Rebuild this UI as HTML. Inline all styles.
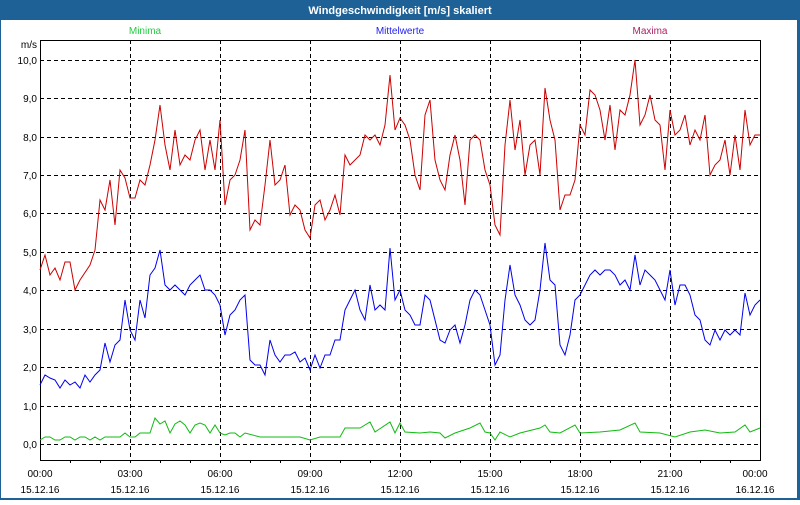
<!DOCTYPE html>
<html><head><style>
body{margin:0;width:800px;height:500px;overflow:hidden;background:#fff;font-family:"Liberation Sans",sans-serif}
</style></head><body>
<svg width="800" height="500" xmlns="http://www.w3.org/2000/svg" font-family="Liberation Sans, sans-serif" font-size="10">
<rect x="0" y="0" width="800" height="500" fill="#1d6196"/>
<rect x="1" y="20" width="796" height="478" fill="#fff"/>
<text x="400" y="14" fill="#fff" font-weight="bold" font-size="11" text-anchor="middle">Windgeschwindigkeit [m/s] skaliert</text>
<text x="145" y="34" fill="#22cc44" text-anchor="middle">Minima</text>
<text x="400" y="34" fill="#2222ee" text-anchor="middle">Mittelwerte</text>
<text x="650" y="34" fill="#aa2266" text-anchor="middle">Maxima</text>
<g stroke="#000" stroke-dasharray="4,3" stroke-width="1">
<line x1="40" x2="760" y1="60.5" y2="60.5"/><line x1="40" x2="760" y1="98.5" y2="98.5"/><line x1="40" x2="760" y1="137.5" y2="137.5"/><line x1="40" x2="760" y1="175.5" y2="175.5"/><line x1="40" x2="760" y1="213.5" y2="213.5"/><line x1="40" x2="760" y1="252.5" y2="252.5"/><line x1="40" x2="760" y1="290.5" y2="290.5"/><line x1="40" x2="760" y1="329.5" y2="329.5"/><line x1="40" x2="760" y1="367.5" y2="367.5"/><line x1="40" x2="760" y1="406.5" y2="406.5"/><line x1="40" x2="760" y1="444.5" y2="444.5"/>
<line x1="130.5" x2="130.5" y1="40" y2="460"/><line x1="220.5" x2="220.5" y1="40" y2="460"/><line x1="310.5" x2="310.5" y1="40" y2="460"/><line x1="400.5" x2="400.5" y1="40" y2="460"/><line x1="490.5" x2="490.5" y1="40" y2="460"/><line x1="580.5" x2="580.5" y1="40" y2="460"/><line x1="670.5" x2="670.5" y1="40" y2="460"/>
</g>
<path d="M40.5 40.5H760.5V460.5H40.5Z" fill="none" stroke="#000"/>
<g stroke="#000"><path d="M70.5 460v3M100.5 460v3M130.5 460v3M160.5 460v3M190.5 460v3M220.5 460v3M250.5 460v3M280.5 460v3M310.5 460v3M340.5 460v3M370.5 460v3M400.5 460v3M430.5 460v3M460.5 460v3M490.5 460v3M520.5 460v3M550.5 460v3M580.5 460v3M610.5 460v3M640.5 460v3M670.5 460v3M700.5 460v3M730.5 460v3"/></g>
<g text-anchor="end" fill="#000"><text x="37" y="48">m/s</text><text x="37" y="64">10,0</text><text x="37" y="102">9,0</text><text x="37" y="141">8,0</text><text x="37" y="179">7,0</text><text x="37" y="217">6,0</text><text x="37" y="256">5,0</text><text x="37" y="294">4,0</text><text x="37" y="333">3,0</text><text x="37" y="371">2,0</text><text x="37" y="410">1,0</text><text x="37" y="448">0,0</text></g>
<g text-anchor="middle" fill="#000">
<text x="40" y="477">00:00</text><text x="40" y="493">15.12.16</text>
<text x="130" y="477">03:00</text><text x="130" y="493">15.12.16</text>
<text x="220" y="477">06:00</text><text x="220" y="493">15.12.16</text>
<text x="310" y="477">09:00</text><text x="310" y="493">15.12.16</text>
<text x="400" y="477">12:00</text><text x="400" y="493">15.12.16</text>
<text x="490" y="477">15:00</text><text x="490" y="493">15.12.16</text>
<text x="580" y="477">18:00</text><text x="580" y="493">15.12.16</text>
<text x="670" y="477">21:00</text><text x="670" y="493">15.12.16</text>
<text x="755" y="477">00:00</text><text x="755" y="493">16.12.16</text>
</g>
<polyline fill="none" stroke="#cc0000" points="40,270 45,255 50,275 55,268 60,280 65,262 70,262 75,290 80,280 90,265 95,250 100,200 105,210 110,180 115,225 120,170 125,178 130,198 135,198 140,180 145,185 150,165 155,140 160,105 165,145 170,170 175,130 180,165 185,155 190,160 195,140 200,130 205,170 210,140 215,170 220,120 225,205 230,180 235,175 240,160 245,130 250,230 255,220 260,225 265,185 270,140 275,185 280,180 285,165 290,215 295,205 300,210 305,230 310,238 315,205 320,200 325,220 330,210 335,195 340,215 345,155 350,165 355,160 360,155 365,135 370,140 375,135 380,145 385,125 390,75 395,130 400,118 405,125 410,140 415,175 420,190 425,115 430,100 435,160 440,180 445,190 450,155 455,135 460,160 465,205 470,140 475,135 480,140 485,170 490,185 495,225 500,235 505,145 510,100 515,150 520,120 525,175 530,145 535,140 540,175 545,88 550,120 555,140 560,210 565,195 570,195 575,180 580,125 585,135 590,90 595,95 600,110 605,140 610,105 615,150 620,110 625,115 630,95 635,60 640,125 645,115 650,95 655,120 660,125 665,170 670,110 675,135 680,130 685,115 690,145 695,130 700,140 705,115 710,175 715,165 720,160 725,140 730,175 735,135 740,170 745,110 750,145 755,135 760,135"/>
<polyline fill="none" stroke="#0000ee" points="40,385 45,375 50,378 55,380 60,388 65,380 70,385 75,382 80,388 85,375 90,382 95,375 100,370 105,343 110,362 115,345 120,340 125,300 130,330 135,340 140,300 145,318 150,275 155,268 160,250 165,285 170,290 175,285 180,290 185,295 190,285 195,280 200,275 205,290 210,290 215,295 220,305 225,335 230,315 235,310 240,300 245,295 250,360 255,365 260,365 265,375 270,340 275,355 280,362 285,355 290,355 295,352 300,362 305,358 310,370 315,355 320,368 325,355 330,355 335,340 340,340 345,310 350,300 355,290 360,310 365,320 370,285 375,310 380,305 385,310 390,248 395,300 400,290 405,310 410,315 415,325 420,325 425,295 430,300 435,320 440,340 445,343 450,330 455,325 460,343 465,325 470,300 475,290 480,295 485,310 490,325 495,365 500,355 505,300 510,265 515,295 520,305 525,320 530,325 535,320 540,290 545,243 550,280 555,285 560,345 565,355 570,335 575,300 580,295 585,285 590,275 595,270 600,275 605,270 610,270 615,275 620,285 625,280 630,290 635,255 640,285 645,270 650,275 655,280 660,290 665,300 670,270 675,305 680,285 685,285 690,295 695,315 700,320 705,340 710,345 715,330 720,340 725,330 730,335 735,330 740,335 745,293 750,315 755,305 760,300"/>
<polyline fill="none" stroke="#11bb11" points="40,440 45,437 50,437 55,440 60,440 65,437 70,437 75,440 80,437 85,437 90,440 95,437 100,440 105,437 110,437 115,437 120,437 125,433 130,437 135,437 140,433 145,433 150,433 155,418 160,424 165,421 170,433 175,424 180,421 185,425 190,433 195,425 200,423 205,425 210,433 215,425 220,433 225,435 230,433 235,433 240,437 245,433 260,437 280,437 300,437 310,440 320,437 340,437 345,428 360,428 370,422 375,432 390,422 395,433 400,423 405,432 420,433 430,432 440,433 445,438 455,433 470,428 480,423 485,432 490,433 495,440 500,432 510,437 520,433 540,428 545,425 550,432 560,433 575,425 580,433 600,432 620,430 635,423 640,432 660,433 675,437 690,432 705,430 720,433 735,432 745,425 750,432 760,428"/>
</svg>
</body></html>
